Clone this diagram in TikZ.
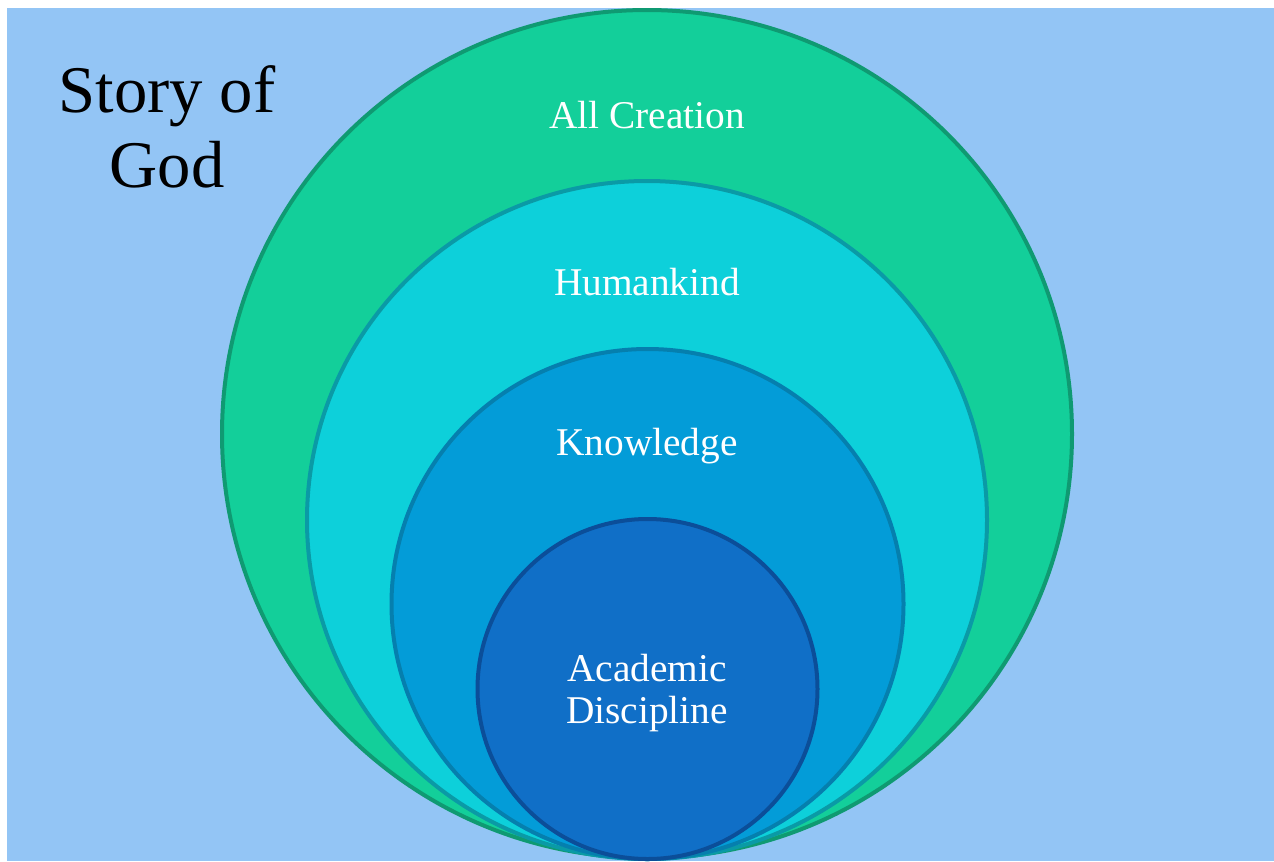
\documentclass[tikz,border=0pt]{standalone}
\usepackage{fontspec}
\setmainfont{Liberation Serif}
\definecolor{bgblue}{HTML}{93C5F5}
\definecolor{greenfill}{HTML}{13CF9A}
\definecolor{greenline}{HTML}{0F9A72}
\definecolor{cyanfill}{HTML}{0DD0DA}
\definecolor{cyanline}{HTML}{0A9AA6}
\definecolor{midfill}{HTML}{039CD8}
\definecolor{midline}{HTML}{057FAE}
\definecolor{darkfill}{HTML}{106FC7}
\definecolor{darkline}{HTML}{0B4E99}
\tikzset{
  ring/.style={line width=3pt},
  label/.style={text=white, font=\fontsize{29.5}{33}\selectfont, align=center, inner sep=0pt},
}
\begin{document}
\begin{tikzpicture}[x=0.75pt,y=-0.75pt]
\useasboundingbox (0,0) rectangle (1274,861);
\fill[white] (0,0) rectangle (1274,861);
\fill[bgblue] (7,8) rectangle (1274,861);
\begin{scope}
\clip (7,8) rectangle (1274,861);
\filldraw[ring, fill=greenfill, draw=greenline] (647,434) ellipse [x radius=425, y radius=424];
\filldraw[ring, fill=cyanfill, draw=cyanline] (647,520) ellipse [x radius=340, y radius=339];
\filldraw[ring, fill=midfill, draw=midline] (647.5,604) ellipse [x radius=256, y radius=255];
\filldraw[ring, fill=darkfill, draw=darkline] (647.5,689) ellipse [x radius=170, y radius=170];
\end{scope}
\node[label] (creation) at (647,115) {All Creation};
\node[label] (human) at (647,282) {Humankind};
\node[label] (knowledge) at (647,446) {Knowledge};
\node[label, font=\fontsize{29.5}{31.5}\selectfont] (academic) at (647,693) {Academic\\Discipline};
\node[inner sep=0pt, align=center, font=\fontsize{50}{56}\selectfont] (story) at (167,127) {Story of\\God};
\end{tikzpicture}
\end{document}
